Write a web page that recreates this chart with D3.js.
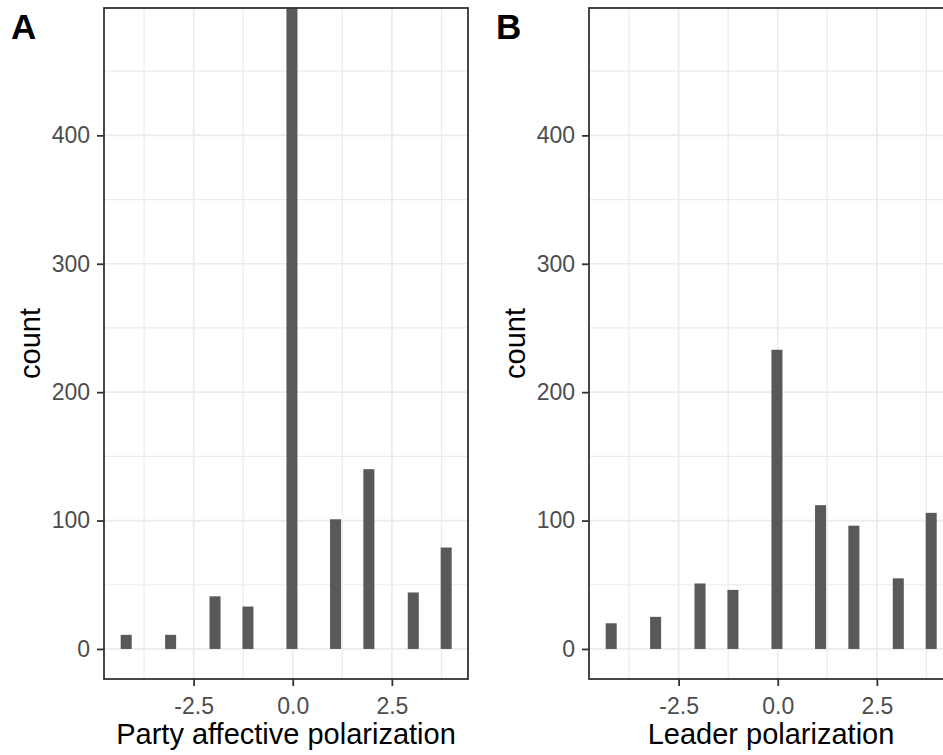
<!DOCTYPE html>
<html>
<head>
<meta charset="utf-8">
<script src="https://cdn.jsdelivr.net/npm/d3@7"></script>
<style>
  html, body { margin: 0; padding: 0; background: #ffffff; }
  svg { display: block; }
  text { font-family: "Liberation Sans", Arial, sans-serif; }
</style>
</head>
<body>
<svg id="chart" width="943" height="755"></svg>
<script>
// ---- data (histogram bins) ----
const binCenters = [-4.2, -3.08, -1.96, -1.13, -0.02, 1.08, 1.92, 3.04, 3.87];
const binWidth = 0.278;
const countsA = [11, 11, 41, 33, 560, 101, 140, 44, 79];
const countsB = [20, 25, 51, 46, 233, 112, 96, 55, 106];
const xMajorTicks = [-2.5, 0, 2.5];
const xMinorTicks = [-3.75, -1.25, 1.25, 3.75];
const yMajorTicks = [0, 100, 200, 300, 400];
const yMinorTicks = [50, 150, 250, 350, 450];
const xDomain = [-4.76, 4.42];
const yDomain = [-23.4, 499.2];
const panels = [
  { tag: "A", counts: countsA, xTitle: "Party affective polarization", left: 104 },
  { tag: "B", counts: countsB, xTitle: "Leader polarization", left: 589 }
];

(function () {
const svg = d3.select("#chart");
svg.append("rect").attr("width", 943).attr("height", 755).attr("fill", "#ffffff");

const panelW = 364, pTop = 8, pBottom = 679;
const gridCol = "#EBEBEB", darkCol = "#333333", tickTxt = "#4D4D4D", barFill = "#595959";

panels.forEach((p, i) => {
  const x = d3.scaleLinear().domain(xDomain).range([p.left, p.left + panelW]);
  const y = d3.scaleLinear().domain(yDomain).range([pBottom, pTop]);
  const g = svg.append("g");

  const clipId = "clip" + i;
  svg.append("clipPath").attr("id", clipId)
    .append("rect").attr("x", p.left).attr("y", pTop).attr("width", panelW).attr("height", pBottom - pTop);

  const plot = g.append("g").attr("clip-path", `url(#${clipId})`);
  // minor grid
  plot.selectAll(".hminor").data(yMinorTicks).join("line")
    .attr("x1", p.left).attr("x2", p.left + panelW)
    .attr("y1", d => y(d)).attr("y2", d => y(d))
    .attr("stroke", gridCol).attr("stroke-width", 1.2);
  plot.selectAll(".vminor").data(xMinorTicks).join("line")
    .attr("y1", pTop).attr("y2", pBottom)
    .attr("x1", d => x(d)).attr("x2", d => x(d))
    .attr("stroke", gridCol).attr("stroke-width", 1.2);
  // major grid
  plot.selectAll(".hmajor").data(yMajorTicks).join("line")
    .attr("x1", p.left).attr("x2", p.left + panelW)
    .attr("y1", d => y(d)).attr("y2", d => y(d))
    .attr("stroke", gridCol).attr("stroke-width", 1.7);
  plot.selectAll(".vmajor").data(xMajorTicks).join("line")
    .attr("y1", pTop).attr("y2", pBottom)
    .attr("x1", d => x(d)).attr("x2", d => x(d))
    .attr("stroke", gridCol).attr("stroke-width", 1.7);

  // bars
  plot.selectAll(".bar").data(binCenters.map((c, k) => ({ c, n: p.counts[k] }))).join("rect")
    .attr("x", d => x(d.c - binWidth / 2))
    .attr("width", d => x(d.c + binWidth / 2) - x(d.c - binWidth / 2))
    .attr("y", d => y(d.n))
    .attr("height", d => y(0) - y(d.n))
    .attr("fill", barFill);

  // border
  g.append("rect").attr("x", p.left).attr("y", pTop).attr("width", panelW).attr("height", pBottom - pTop)
    .attr("fill", "none").attr("stroke", darkCol).attr("stroke-width", 1.8);

  // axes
  const yAxis = g.append("g").attr("transform", `translate(${p.left},0)`)
    .call(d3.axisLeft(y).tickValues(yMajorTicks).tickFormat(d3.format("d")).tickSize(7).tickPadding(7));
  const xAxis = g.append("g").attr("transform", `translate(0,${pBottom})`)
    .call(d3.axisBottom(x).tickValues(xMajorTicks).tickFormat(d3.format(".1f")).tickSize(7).tickPadding(12));
  [yAxis, xAxis].forEach(a => {
    a.select(".domain").remove();
    a.selectAll(".tick line").attr("stroke", darkCol).attr("stroke-width", 1.8);
    a.selectAll(".tick text").attr("fill", tickTxt).style("font-size", "23px")
      .style("font-family", '"Liberation Sans", Arial, sans-serif');
  });
  xAxis.selectAll(".tick text").text(d => d3.format(".1f")(d).replace("−", "-"));

  // axis titles
  g.append("text")
    .attr("x", p.left + panelW / 2).attr("y", 744)
    .attr("text-anchor", "middle").attr("fill", "#000").style("font-size", "29px")
    .text(p.xTitle);
  g.append("text")
    .attr("transform", `translate(${p.left - 64},${(pTop + pBottom) / 2}) rotate(-90)`)
    .attr("text-anchor", "middle").attr("fill", "#000").style("font-size", "29px")
    .text("count");

  // tag
  g.append("text")
    .attr("x", p.left - 93).attr("y", 39)
    .attr("fill", "#000").style("font-size", "35px").style("font-weight", "bold")
    .text(p.tag);
});
})();
</script>
</body>
</html>
